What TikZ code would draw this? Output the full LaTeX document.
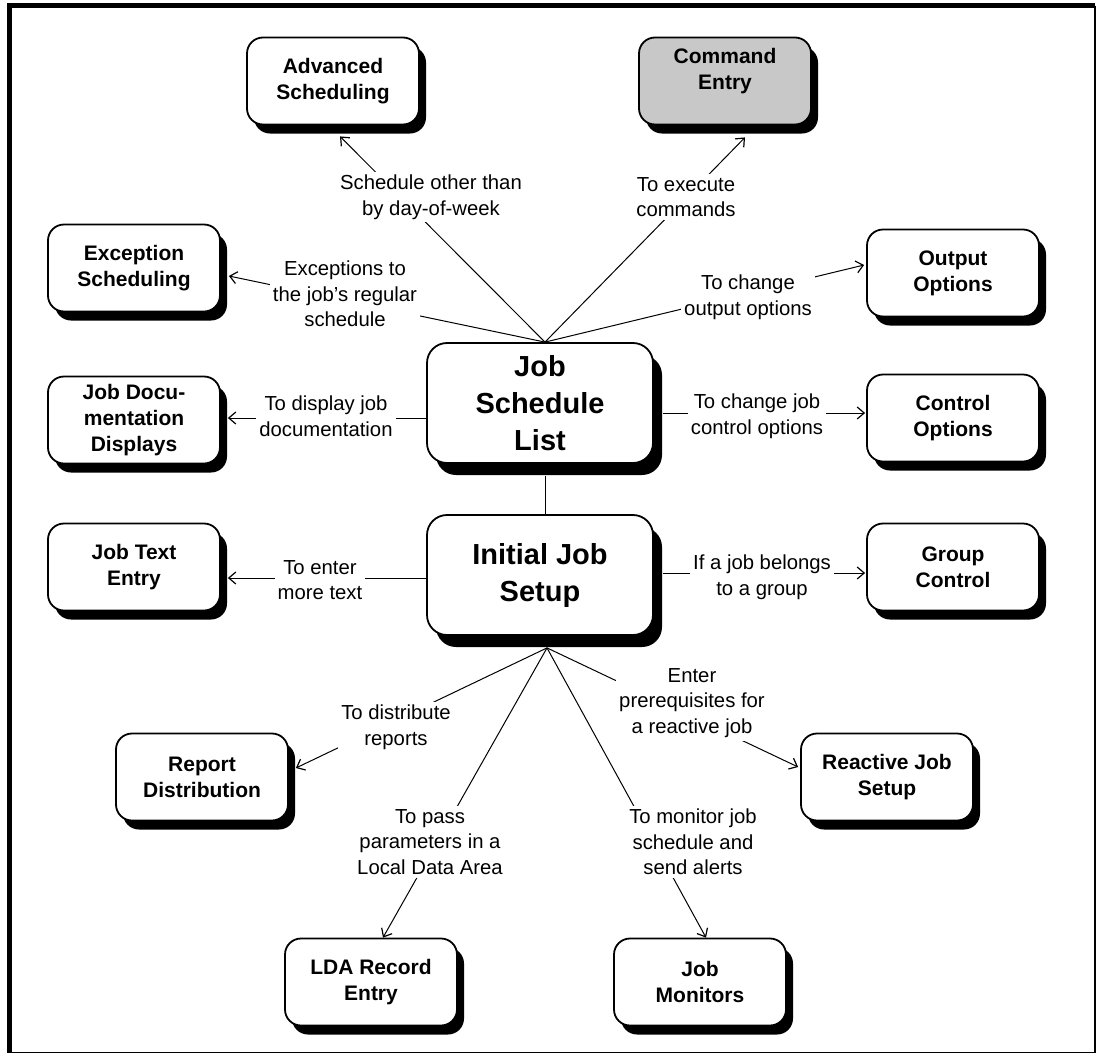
\documentclass[tikz,border=0pt]{standalone}
\usepackage{fontspec}
\setmainfont{Liberation Sans}
\usetikzlibrary{calc,arrows.meta,shadows}
\definecolor{cmdgray}{RGB}{200,200,200}
\begin{document}
\begin{tikzpicture}[x=1pt,y=-1pt,
  boxbase/.style={draw,line width=1.8pt,fill=white,align=center,inner sep=0pt},
  box/.style={boxbase,rounded corners=16pt,minimum width=172pt,minimum height=87pt,
    font=\fontsize{21}{26}\selectfont\bfseries,
    drop shadow={shadow xshift=7pt,shadow yshift=-9pt,opacity=1,fill=black}},
  bigbox/.style={boxbase,rounded corners=20pt,minimum width=226pt,minimum height=120pt,
    font=\fontsize{29}{37}\selectfont\bfseries,
    drop shadow={shadow xshift=9pt,shadow yshift=-12pt,opacity=1,fill=black}},
  lbl/.style={fill=white,align=center,inner sep=3pt,font=\fontsize{20.3}{25.5}\selectfont},
  link/.style={line width=1pt},
  arr/.style={link,-{Straight Barb[length=7pt,width=12pt,line width=1.2pt]}},
]
\useasboundingbox (0,0) rectangle (1100,1055);

% frame
\draw[line width=5pt] (9.5,1053) -- (9.5,5.5) -- (1095,5.5);
\draw[line width=1.5pt] (1095,5.5) -- (1095,1052.5) -- (9.5,1052.5);

% screens
\node[box] (adv) at (333,81) {Advanced\\Scheduling};
\node[box,fill=cmdgray] (cmd) at (725,81)
  {\raisebox{10pt}[\height][\depth]{\begin{tabular}{@{}c@{}}Command\\Entry\end{tabular}}};
\node[box] (exc) at (134,268) {Exception\\Scheduling};
\node[box] (out) at (953,273) {Output\\Options};
\node[bigbox] (jsl) at (540,403) {Job\\Schedule\\List};
\node[box] (doc) at (134,420) {Job Docu-\\mentation\\Displays};
\node[box] (ctl) at (953,418) {Control\\Options};
\node[bigbox] (ijs) at (540,575) {Initial Job\\Setup};
\node[box] (txt) at (134,567) {Job Text\\Entry};
\node[box] (grp) at (953,567) {Group\\Control};
\node[box] (rpt) at (202,777) {Report\\Distribution};
\node[box] (rea) at (887,777) {Reactive Job\\Setup};
\node[box] (lda) at (371,982) {LDA Record\\Entry};
\node[box] (mon) at (700,982) {Job\\Monitors};

% fan-out points
\coordinate (hub1) at ($(jsl.north)+(5,0)$);
\coordinate (hub2) at ($(ijs.south)+(7,12)$);

% connectors
\draw[arr] (hub1) -- ($(adv.south)+(7,11)$);
\draw[arr] (hub1) -- ($(cmd.south)+(20,12)$);
\draw[arr] (hub1) -- ($(exc.east)+(8,8)$);
\draw[arr] (hub1) -- ($(out.west)+(-2,-8)$);
\draw[arr] ($(jsl.west)+(0,15)$) -- ($(doc.east)+(7,-2)$);
\draw[arr] ($(jsl.east)+(9,10)$) -- ($(ctl.west)+(-1,-5)$);
\draw[link] ($(jsl.south)+(5,12)$) -- ($(ijs.north)+(5,0)$);
\draw[arr] ($(ijs.west)+(0,3)$) -- ($(txt.east)+(7,11)$);
\draw[arr] ($(ijs.east)+(9,-2)$) -- ($(grp.west)+(-1,6)$);
\draw[arr] (hub2) -- ($(rpt.east)+(7,-9)$);
\draw[arr] (hub2) -- ($(lda.north)+(12,0)$);
\draw[arr] (hub2) -- ($(mon.north)+(6,0)$);
\draw[arr] (hub2) -- ($(rea.west)+(-2,-10)$);

% connector labels
\node[lbl] (l1) at (431,197) {Schedule other than\\by day-of-week};
\node[lbl] (l2) at (686,197) {To execute\\commands};
\node[lbl] (l3) at (345,294) {Exceptions to\\the job's regular\\schedule};
\node[lbl] (l4) at (748,297) {To change\\output options};
\node[lbl] (l5) at (326,416) {To display job\\documentation};
\node[lbl] (l6) at (757,416) {To change job\\control options};
\node[lbl] (l7) at (320,580) {To enter\\more text};
\node[lbl] (l8) at (762,577) {If a job belongs\\to a group};
\node[lbl] (l9) at (396,727) {To distribute\\reports};
\node[lbl] (l10) at (692,703) {Enter\\prerequisites for\\a reactive job};
\node[lbl] (l11) at (430,842) {To pass\\parameters in a\\Local Data Area};
\node[lbl] (l12) at (693,842) {To monitor job\\schedule and\\send alerts};
\end{tikzpicture}
\end{document}
